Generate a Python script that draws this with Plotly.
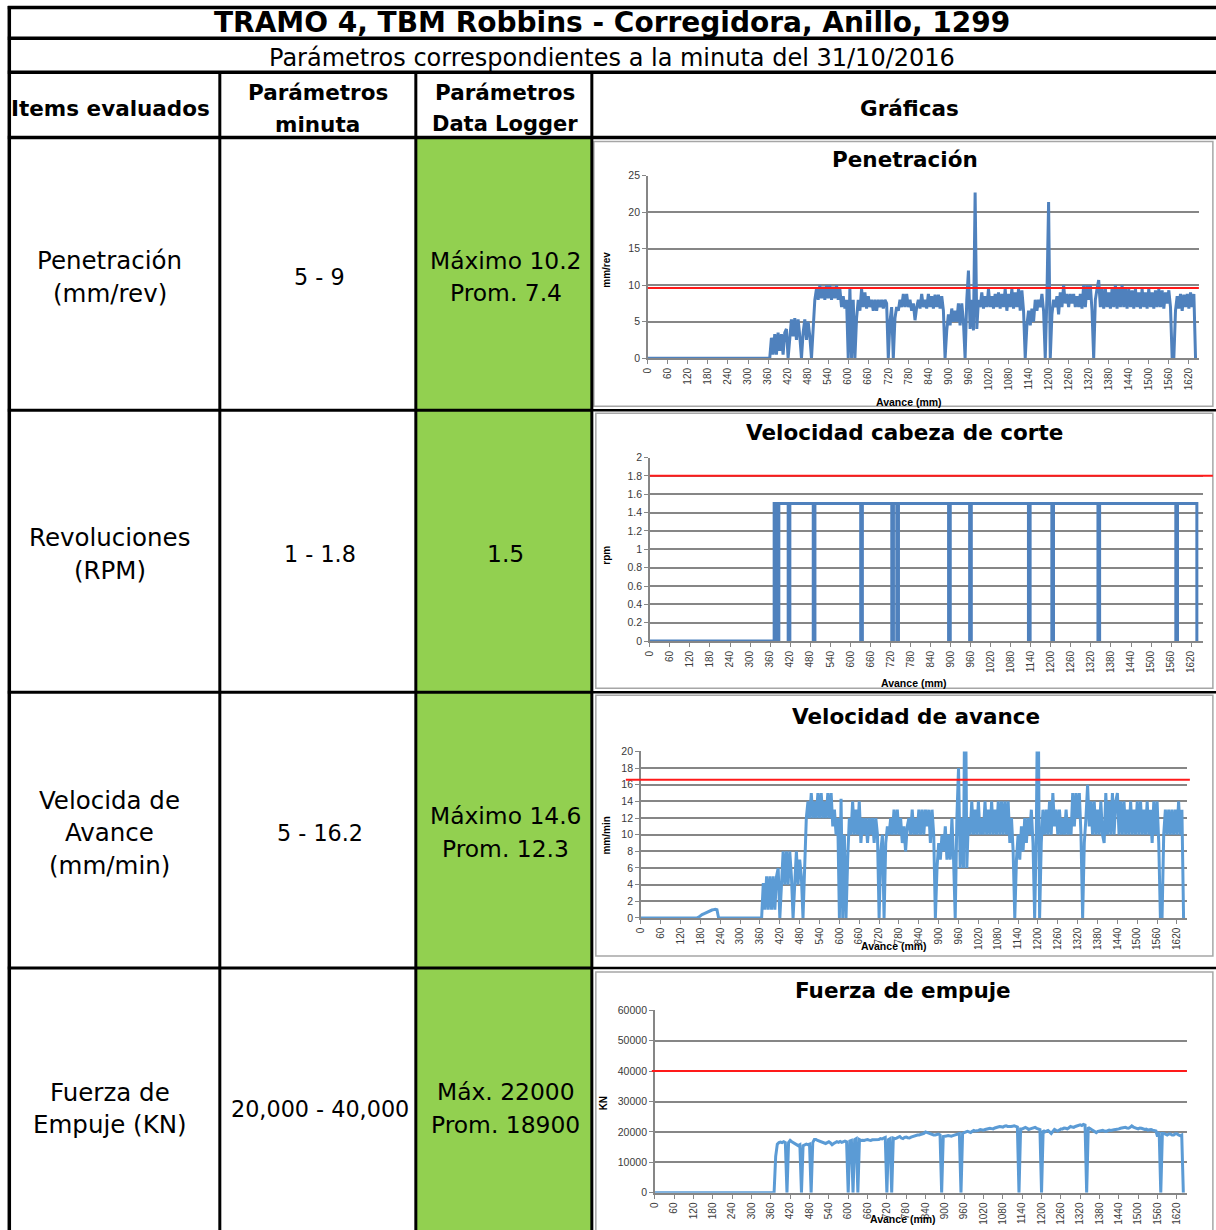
import plotly.graph_objects as go

# ---------------------------------------------------------------------------
# Data: logger readings along the advance (Avance, mm)
# ---------------------------------------------------------------------------
AVANCE_5MM = list(range(0, 1641, 5))
X_TICKS = list(range(0, 1621, 60))

# Penetración (mm/rev), every 5 mm
PENETRACION = [
    0, 0, 0, 0, 0, 0, 0, 0, 0, 0, 0, 0, 0, 0, 0, 0, 0, 0, 0, 0,                      # 0-95
    0, 0, 0, 0, 0, 0, 0, 0, 0, 0, 0, 0, 0, 0, 0, 0, 0, 0, 0, 0,                      # 100-195
    0, 0, 0, 0, 0, 0, 0, 0, 0, 0, 0, 0, 0, 0, 0, 0, 0, 0, 0, 0,                      # 200-295
    0, 0, 0, 0, 0, 0, 0, 0, 0, 0, 0, 0, 0, 0, 2.8, 0.5, 3.3, 0.5, 3.5, 1.0,          # 300-395
    3.3, 0.5, 3.5, 4.0, 0, 2.8, 5.3, 3.0, 5.5, 2.5, 5.3, 3.0, 0, 3.5, 5.3, 2.5, 5.0, 3.0, 0, 4.0,
    8.0, 9.5, 8.0, 10.0, 8.2, 9.8, 8.0, 10.0, 8.2, 10.0, 8.0, 9.8, 8.2, 10.0, 8.0, 9.5, 7.0, 8.5, 6.8, 8.0,
    0, 9.6, 0, 8.0, 0, 5.5, 8.0, 6.5, 9.5, 7.0, 9.0, 6.8, 8.5, 7.0, 8.0, 6.5, 8.0, 6.5, 8.0, 7.0,
    8.0, 6.8, 8.0, 7.5, 0, 5.0, 7.0, 0, 5.5, 7.0, 6.5, 8.0, 7.0, 8.8, 7.0, 8.8, 7.0, 8.0, 6.5, 7.5,
    5.2, 7.0, 8.0, 6.8, 8.8, 7.0, 8.0, 6.8, 8.8, 7.0, 8.5, 6.8, 8.7, 7.0, 8.7, 6.8, 8.5, 6.5, 0, 3.8,
    6.0, 4.5, 6.8, 5.0, 6.5, 5.0, 7.5, 4.5, 7.5, 5.0, 0, 8.0, 12.0, 4.0, 8.0, 3.8, 22.7, 4.0, 8.0, 7.0,
    9.0, 6.8, 8.5, 7.0, 9.5, 7.0, 8.5, 6.8, 8.8, 7.0, 9.0, 6.8, 8.8, 7.0, 9.5, 6.5, 8.8, 7.0, 9.5, 6.8,
    9.0, 7.0, 9.5, 6.5, 9.3, 6.5, 0, 4.5, 6.5, 4.5, 6.8, 5.0, 8.0, 6.5, 8.0, 7.0, 8.8, 6.5, 0, 8.5,
    21.4, 0, 6.0, 8.0, 7.0, 8.5, 6.0, 9.0, 7.0, 10.0, 7.5, 8.8, 7.0, 8.8, 7.5, 8.8, 7.0, 8.5, 7.0, 8.8,
    6.8, 10.0, 7.0, 10.0, 8.0, 10.0, 6.5, 0, 8.0, 9.5, 10.7, 7.0, 9.5, 6.8, 9.5, 7.0, 9.0, 6.8, 9.5, 7.0,
    10.0, 6.8, 9.5, 7.0, 10.0, 7.0, 9.5, 6.8, 9.5, 7.0, 9.3, 6.8, 9.5, 7.0, 9.0, 6.8, 9.5, 7.0, 9.0, 6.8,
    9.5, 7.0, 9.0, 6.8, 9.3, 7.0, 9.5, 7.0, 9.3, 6.8, 9.0, 7.5, 9.3, 7.0, 0, 0, 6.5, 8.5, 6.8, 8.8,
    6.5, 8.7, 7.0, 8.8, 6.8, 9.0, 7.0, 8.8, 0,                                          # 1600-1640
]

# Velocidad cabeza de corte (rpm): value held from each listed advance onward
RPM_AVANCE = [0, 372, 380, 386, 414, 419, 489, 494, 631, 636, 724, 729, 739, 744,
              894, 899, 957, 962, 1133, 1138, 1203, 1208, 1341, 1346, 1574, 1579,
              1637, 1640]
RPM = [0, 1.5, 0, 1.5, 0, 1.5, 0, 1.5, 0, 1.5, 0, 1.5, 0, 1.5,
       0, 1.5, 0, 1.5, 0, 1.5, 0, 1.5, 0, 1.5, 0, 1.5,
       0, 0]

# Velocidad de avance (mm/min), every 5 mm
VEL_AVANCE = [
    0, 0, 0, 0, 0, 0, 0, 0, 0, 0, 0, 0, 0, 0, 0, 0, 0, 0, 0, 0,                      # 0-95
    0, 0, 0, 0, 0, 0, 0, 0, 0, 0, 0, 0, 0, 0, 0, 0.1, 0.3, 0.4, 0.5, 0.6,            # 100-195
    0.7, 0.8, 0.85, 0.95, 1.0, 1.05, 1.0, 0, 0, 0, 0, 0, 0, 0, 0, 0, 0, 0, 0, 0,     # 200-295
    0, 0, 0, 0, 0, 0, 0, 0, 0, 0, 0, 0, 0, 0, 4.2, 1.0, 5.0, 1.0, 5.0, 1.0,          # 300-395
    5.0, 1.0, 5.0, 6.0, 0, 4.0, 8.0, 4.0, 8.0, 4.0, 8.0, 5.0, 0, 4.0, 8.0, 4.0, 7.0, 5.0, 0, 6.0,
    12.0, 14.0, 12.0, 15.0, 12.0, 14.0, 12.0, 15.0, 12.0, 15.0, 12.0, 14.0, 12.0, 15.0, 12.0, 15.0, 11.0, 13.0, 10.0, 12.0,
    0, 14.3, 0, 10.0, 0, 7.0, 12.0, 10.0, 14.0, 10.0, 13.0, 10.0, 14.0, 9.0, 12.0, 10.0, 12.0, 9.0, 12.0, 10.0,
    12.0, 9.0, 12.0, 10.0, 0, 8.0, 10.0, 0, 9.0, 11.0, 10.0, 12.0, 10.0, 13.0, 10.0, 13.0, 10.0, 12.0, 9.0, 11.0,
    8.0, 11.0, 12.0, 10.0, 13.0, 10.0, 12.0, 10.0, 13.0, 10.0, 13.0, 10.0, 13.0, 11.0, 13.0, 9.0, 13.0, 10.0, 0, 6.0,
    9.0, 7.0, 10.0, 8.0, 11.0, 7.0, 10.0, 7.0, 12.0, 7.0, 0, 12.0, 18.0, 6.0, 12.0, 6.0, 34.0, 6.0, 12.0, 10.0,
    14.0, 10.0, 13.0, 10.0, 14.0, 10.0, 12.0, 10.0, 14.0, 10.0, 13.0, 10.0, 14.0, 10.0, 13.0, 10.0, 14.0, 10.0, 14.0, 10.0,
    14.0, 10.0, 14.0, 9.0, 12.0, 8.0, 0, 7.0, 10.0, 7.0, 11.0, 8.0, 12.0, 9.0, 12.0, 10.0, 13.0, 9.0, 0, 10.0,
    32.0, 0, 9.0, 13.0, 10.0, 13.0, 10.0, 14.0, 10.0, 15.0, 11.0, 13.0, 10.0, 13.0, 10.0, 12.0, 10.0, 13.0, 10.0, 12.0,
    10.0, 15.0, 11.0, 15.0, 12.0, 15.0, 10.0, 0, 9.0, 12.0, 16.0, 11.0, 14.0, 10.0, 14.0, 10.0, 13.0, 10.0, 14.0, 10.0,
    9.0, 15.0, 10.0, 14.0, 10.0, 15.0, 10.0, 14.0, 15.0, 10.0, 14.0, 10.0, 14.0, 10.0, 13.0, 10.0, 14.0, 10.0, 13.0, 10.0,
    14.0, 10.0, 14.0, 10.0, 13.0, 10.0, 14.0, 10.0, 13.0, 9.0, 14.0, 10.0, 14.0, 9.0, 0, 0, 10.0, 13.0, 10.0, 13.0,
    10.0, 13.0, 10.0, 13.0, 10.0, 14.0, 10.0, 13.0, 0,                                  # 1600-1640
]

# Fuerza de empuje (KN), every 5 mm
EMPUJE = [
    0, 0, 0, 0, 0, 0, 0, 0, 0, 0, 0, 0, 0, 0, 0, 0, 0, 0, 0, 0,                      # 0-95
    0, 0, 0, 0, 0, 0, 0, 0, 0, 0, 0, 0, 0, 0, 0, 0, 0, 0, 0, 0,                      # 100-195
    0, 0, 0, 0, 0, 0, 0, 0, 0, 0, 0, 0, 0, 0, 0, 0, 0, 0, 0, 0,                      # 200-295
    0, 0, 0, 0, 0, 0, 0, 0, 0, 0, 0, 0, 0, 0, 0, 12000, 16000, 16500, 16700, 16500,  # 300-395
    16800, 16500, 0, 16500, 17200, 16800, 16500, 16000, 15800, 15500,
    15800, 0, 15500, 15800, 16000, 15800, 16000, 0, 16500, 17500,                    # 400-495
    17500, 17200, 17000, 16800, 16500, 16300, 16200, 16500, 16800, 16400,
    15800, 16200, 16500, 16800, 16600, 16900, 16600, 16800, 17000, 16800,            # 500-595
    0, 17000, 17200, 0, 17500, 17800, 0, 17500, 17200, 17300,
    17200, 17400, 17500, 17300, 17200, 17400, 17400, 17500, 17600, 17500,            # 600-695
    17800, 17700, 18000, 18200, 0, 17500, 17800, 0, 18000, 17800,
    18000, 18200, 18500, 18000, 17800, 18200, 18300, 18100, 18000, 18300,            # 700-795
    18500, 18600, 18800, 19000, 19000, 19200, 19300, 19500, 20000, 19800,
    19500, 19400, 19200, 19000, 19000, 19200, 19300, 19000, 0, 18500,                # 800-895
    18500, 18700, 18800, 18600, 18600, 18800, 19000, 19200, 19300, 19500,
    0, 19500, 19800, 20000, 20200, 20000, 19800, 20200, 20500, 20300,                # 900-995
    20300, 20500, 20800, 20600, 20600, 20800, 21000, 21000, 21200, 21100,
    21000, 21300, 21500, 21600, 21800, 21700, 21600, 21900, 22000, 21800,            # 1000-1095
    21700, 21800, 21900, 22000, 21800, 21600, 0, 21000, 21000, 21300,
    21500, 21200, 20800, 21000, 21200, 21400, 21500, 21200, 21000, 20800,            # 1100-1195
    0, 20500, 20000, 20300, 20500, 20000, 19500, 20200, 20800, 20500,
    20300, 20600, 21000, 21000, 21300, 21200, 21000, 21400, 21800, 21600,            # 1200-1295
    21500, 21800, 22000, 22200, 22300, 22100, 22500, 22300, 0, 21500,
    21000, 20800, 20500, 20000, 19800, 20200, 20300, 20400, 20500, 20300,            # 1300-1395
    20200, 20400, 20600, 20500, 20500, 20700, 20800, 20800, 21000, 21200,
    21300, 21500, 21500, 21300, 21200, 21500, 22000, 21600, 21300, 21200,            # 1400-1495
    21000, 21300, 21200, 21000, 20800, 20900, 20600, 20700, 20800, 20600,
    20500, 20300, 18500, 20000, 0, 19500, 19500, 19200, 19000, 19300,                # 1500-1595
    19300, 19000, 19000, 19400, 19400, 19000, 18800, 19000, 0,                      # 1600-1640
]

# Upper limits (red reference lines)
LIMITES = [9.6, 1.8, 16.6, 40000]

# Table content
TITULO = "TRAMO 4, TBM Robbins - Corregidora, Anillo, 1299"
SUBTITULO = "Parámetros correspondientes a la minuta del 31/10/2016"
ITEMS = [["Penetración", "(mm/rev)"], ["Revoluciones", "(RPM)"],
         ["Velocida de", "Avance", "(mm/min)"], ["Fuerza de", "Empuje (KN)"]]
PARAM_MINUTA = ["5 - 9", "1 - 1.8", "5 - 16.2", "20,000 - 40,000"]
PARAM_LOGGER = [["Máximo 10.2", "Prom. 7.4"], ["1.5"],
                ["Máximo 14.6", "Prom. 12.3"], ["Máx. 22000", "Prom. 18900"]]
TITULOS_GRAFICA = ["Penetración", "Velocidad cabeza de corte",
                   "Velocidad de avance", "Fuerza de empuje"]
UNIDADES = ["mm/rev", "rpm", "mm/min", "KN"]

# ---------------------------------------------------------------------------
# Layout helpers: sheet pixel -> paper coordinates.
# The page body keeps a margin around the figure; the sheet grid is spread
# over the full page.
# ---------------------------------------------------------------------------
W, H = 1216, 1230
PAGE_OFFSET = 8
KY = (H + 2 * PAGE_OFFSET) / H
X_SHIFT, X_SCALE = 6.2, 0.995


def fx(x):
    return ((x - X_SHIFT) / X_SCALE) / W


def fy(y):
    return 1 - (y * KY - PAGE_OFFSET) / H


TABLE_FONT = "DejaVu Sans"
TICK_FONT = "Liberation Sans"
GRID = "#868686"
TEXT_DY = 2

fig = go.Figure()
shapes = []
annotations = []


def text(t, x, y, size, bold=False, angle=0, family=TABLE_FONT, color="black"):
    annotations.append(dict(
        text=f"<b>{t}</b>" if bold else t, x=fx(x), y=fy(y + TEXT_DY),
        xref="paper", yref="paper", showarrow=False,
        xanchor="center", yanchor="middle", textangle=angle,
        font=dict(size=size, family=family, color=color)))


def hline(y, x0, x1, width=3, color="black"):
    shapes.append(dict(type="line", xref="paper", yref="paper",
                       x0=fx(x0), x1=fx(x1), y0=fy(y), y1=fy(y),
                       line=dict(color=color, width=width), layer="above"))


def vline(x, y0, y1, width=3, color="black"):
    shapes.append(dict(type="line", xref="paper", yref="paper",
                       x0=fx(x), x1=fx(x), y0=fy(y0), y1=fy(y1),
                       line=dict(color=color, width=width), layer="above"))


# green column behind the logger values
shapes.append(dict(type="rect", xref="paper", yref="paper",
                   x0=fx(416), x1=fx(592), y0=fy(139), y1=fy(1240),
                   fillcolor="#92D050", line=dict(width=0), layer="below"))

# ---------------------------------------------------------------------------
# Chart panels
# ---------------------------------------------------------------------------
panels = [
    dict(x=AVANCE_5MM, y=PENETRACION, color="#4F81BD", shape="linear",
         xd=(648, 1199), yd=(177, 359), yr=25, dtick=5, xmax=1650,
         title_xy=(905, 159), ut_xy=(607, 269), xt_xy=(909, 401),
         red=(648, 1199), box=(594, 143, 1213, 407)),
    dict(x=RPM_AVANCE, y=RPM, color="#4F81BD", shape="hv",
         xd=(650, 1203), yd=(458, 641), yr=2, dtick=0.2, xmax=1655,
         title_xy=(905, 431), ut_xy=(607, 553), xt_xy=(914, 681),
         red=(650, 1213), box=(596, 414, 1213, 688)),
    dict(x=AVANCE_5MM, y=VEL_AVANCE, color="#5B9BD5", shape="linear",
         xd=(641, 1187), yd=(751, 917), yr=20, dtick=2, xmax=1650,
         title_xy=(916, 714), ut_xy=(607, 833), xt_xy=(894, 943),
         red=(626, 1190), box=(596, 695, 1213, 955)),
    dict(x=AVANCE_5MM, y=EMPUJE, color="#5B9BD5", shape="linear",
         xd=(655, 1187), yd=(1009, 1191), yr=60000, dtick=10000, xmax=1651,
         title_xy=(903, 987), ut_xy=(604, 1100), xt_xy=(903, 1215),
         red=(652, 1187), box=(596, 971, 1213, 1240)),
]

layout_axes = {}
for i, p in enumerate(panels):
    n = i + 1
    xa = "x" if n == 1 else f"x{n}"
    ya = "y" if n == 1 else f"y{n}"
    fig.add_trace(go.Scatter(
        x=p["x"], y=p["y"], mode="lines", xaxis=xa, yaxis=ya,
        line=dict(color=p["color"], width=3, shape=p["shape"]),
        showlegend=False, hoverinfo="skip"))

    layout_axes["xaxis" if n == 1 else f"xaxis{n}"] = dict(
        domain=[fx(p["xd"][0]), fx(p["xd"][1])], anchor=ya,
        range=[0, p["xmax"]], tickvals=X_TICKS, ticktext=[str(v) for v in X_TICKS],
        tickangle=-90, showgrid=False, zeroline=False,
        showline=True, linecolor=GRID, linewidth=1.5,
        ticks="outside", ticklen=4, tickcolor=GRID, tickwidth=1,
        tickfont=dict(size=10, family=TICK_FONT, color="#3a3a3a"),
        fixedrange=True)
    layout_axes["yaxis" if n == 1 else f"yaxis{n}"] = dict(
        domain=[fy(p["yd"][1]), fy(p["yd"][0])], anchor=xa,
        range=[0, p["yr"]], dtick=p["dtick"], tick0=0,
        tickformat="~r" if n == 2 else "d",
        showgrid=True, gridcolor=GRID, gridwidth=1.5, zeroline=False,
        showline=True, linecolor=GRID, linewidth=1.5,
        ticks="outside", ticklen=4, tickcolor=GRID, tickwidth=1,
        tickfont=dict(size=10.5, family=TICK_FONT, color="#3a3a3a"),
        fixedrange=True)

    # chart frame
    bx0, by0, bx1, by1 = p["box"]
    shapes.append(dict(type="rect", xref="paper", yref="paper",
                       x0=fx(bx0), x1=fx(bx1), y0=fy(by1), y1=fy(by0),
                       line=dict(color="#a6a6a6", width=1.5), layer="below"))
    # limit line
    shapes.append(dict(type="line", xref="paper", yref=ya,
                       x0=fx(p["red"][0]), x1=fx(p["red"][1]),
                       y0=LIMITES[i], y1=LIMITES[i],
                       line=dict(color="#FF1a1a", width=2), layer="above"))
    # titles
    text(TITULOS_GRAFICA[i], *p["title_xy"], 21.5, bold=True)
    text(UNIDADES[i], *p["ut_xy"], 10, bold=True, angle=-90, family=TICK_FONT)
    text("Avance (mm)", *p["xt_xy"], 10.5, bold=True, family=TICK_FONT)

# ---------------------------------------------------------------------------
# Table grid
# ---------------------------------------------------------------------------
for y in (9.5, 40, 74, 139):
    hline(y, 8, 1240, width=3.5)
for y in (411, 692, 967):
    hline(y, 8, 592, width=3)
    hline(y, 592, 1240, width=2.5)
vline(9.5, 8, 1240, width=3.5)
for x in (220, 416, 592):
    vline(x, 74, 1240, width=3)

# header text
text(TITULO, 612, 22, 28, bold=True)
text(SUBTITULO, 612, 58, 24)
text("Items evaluados", 111, 108, 21.5, bold=True)
text("Parámetros", 318, 92, 21.5, bold=True)
text("minuta", 318, 124, 21.5, bold=True)
text("Parámetros", 505, 92, 21.5, bold=True)
text("Data Logger", 505, 124, 21, bold=True)
text("Gráficas", 910, 108, 21.5, bold=True)

# row text
row_centres = [276, 552, 830, 1105]
for r, yc in enumerate(row_centres):
    lines = ITEMS[r]
    for k, t in enumerate(lines):
        text(t, 110, yc + (k - (len(lines) - 1) / 2) * 32.5, 24.5)
    text(PARAM_MINUTA[r], 320, yc, 22.3)
    vals = PARAM_LOGGER[r]
    for k, t in enumerate(vals):
        text(t, 506, yc + (k - (len(vals) - 1) / 2) * 32.5, 23.4)

fig.update_layout(
    width=W, height=H, autosize=False,
    margin=dict(l=0, r=0, t=0, b=0),
    paper_bgcolor="white", plot_bgcolor="white",
    shapes=shapes, annotations=annotations, showlegend=False,
    **layout_axes)

fig.write_html("out.html")
